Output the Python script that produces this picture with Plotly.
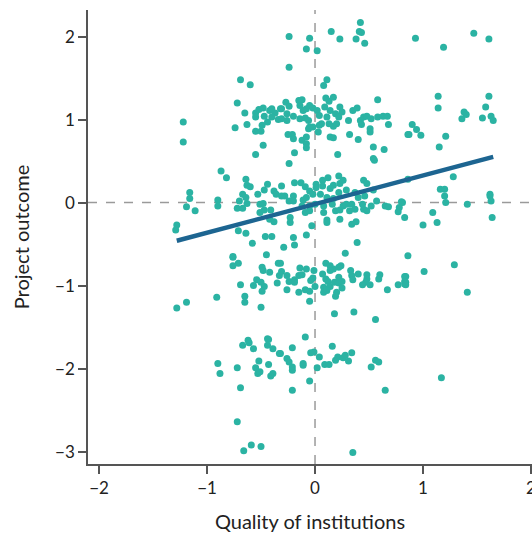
import plotly.graph_objects as go

# Data: (quality of institutions, project outcome)
points = [
    # outcome ~ 2
    (-0.24, 2.00), (-0.05, 1.98), (-0.08, 1.85), (0.02, 1.83), (-0.24, 1.63), (0.15, 2.06),
    (0.23, 1.97), (0.42, 2.17), (0.41, 2.06), (0.43, 2.05), (0.38, 1.97), (0.46, 1.92),
    (0.11, 1.48), (0.08, 1.41), (0.93, 1.98), (1.19, 1.87), (1.47, 2.04), (1.61, 1.97),
    (-0.69, 1.48), (-0.60, 1.42),
    # outcome ~ 1
    (-0.72, 1.20), (-0.65, 1.08), (-1.22, 0.97), (-1.22, 0.73), (-0.74, 0.90), (-0.63, 0.94),
    (-0.55, 0.86), (-0.50, 0.86), (-0.48, 0.69), (-0.55, 0.58), (-0.55, 1.08), (-0.52, 1.12),
    (-0.48, 1.14), (-0.55, 1.03), (-0.47, 1.04), (-0.42, 1.11), (-0.40, 1.13), (-0.37, 1.08),
    (-0.40, 1.03), (-0.44, 0.97), (-0.49, 0.93), (-0.34, 1.00), (-0.32, 1.13),
    (-0.31, 1.13), (-0.27, 1.21), (-0.24, 1.16), (-0.15, 1.23), (-0.12, 1.24), (-0.14, 1.17),
    (-0.05, 1.17), (-0.08, 1.13), (-0.11, 1.11), (-0.02, 1.14), (0.02, 1.11), (-0.26, 1.07),
    (-0.20, 1.04), (-0.31, 1.01), (-0.26, 0.99), (-0.14, 1.01), (-0.09, 1.02), (-0.06, 0.99),
    (0.04, 1.05), (0.09, 1.15), (0.10, 1.26), (0.13, 1.22), (0.17, 1.27), (0.14, 1.11),
    (0.19, 1.07), (0.23, 1.15), (0.25, 1.09), (0.22, 1.03), (0.11, 1.03), (0.06, 0.95),
    (0.04, 0.93), (0.17, 0.92), (0.20, 0.95), (0.31, 0.99), (0.35, 1.11), (0.39, 1.14),
    (0.42, 0.99), (0.45, 1.03), (0.48, 1.04), (0.52, 1.01), (0.43, 0.94), (0.58, 1.03),
    (0.63, 1.04), (0.67, 1.04), (0.68, 0.94), (0.58, 1.24), (0.51, 0.89), (0.51, 0.85),
    (0.32, 0.82), (0.40, 0.76), (0.54, 0.67), (0.64, 0.64), (0.54, 0.53), (0.86, 0.82),
    (0.21, 0.58), (-0.19, 0.60), (-0.25, 0.82), (-0.21, 0.82), (-0.20, 0.77), (-0.12, 0.75),
    (-0.08, 0.79), (-0.06, 0.89), (-0.02, 0.91), (0.03, 0.85), (-0.08, 0.71), (-0.08, 0.66),
    (0.14, 0.79), (0.17, 0.78), (0.13, 0.95), (-0.05, 0.91),
    (1.14, 1.28), (1.61, 1.28), (1.14, 1.14), (1.58, 1.15), (1.38, 1.09), (1.40, 1.06),
    (1.36, 1.01), (1.55, 1.02), (1.63, 1.04), (1.65, 0.99), (0.90, 0.94), (0.94, 0.88),
    (0.87, 0.82), (0.98, 0.81), (1.21, 0.80), (1.15, 0.67),
    (-0.87, 0.38), (-0.82, 0.30), (-0.24, 0.47), (0.55, 0.51),
    # outcome ~ 0
    (-1.16, 0.12), (-1.16, 0.05), (-1.19, -0.05), (-1.11, -0.10), (-1.28, -0.27), (-1.29, -0.33),
    (-0.90, 0.03), (-0.90, -0.04), (-0.64, 0.28), (-0.63, 0.21), (-0.60, 0.19), (-0.67, 0.10),
    (-0.64, 0.06), (-0.70, 0.02), (-0.63, -0.01), (-0.72, -0.07), (-0.67, -0.07), (-0.53, 0.10),
    (-0.44, 0.22), (-0.47, 0.15), (-0.38, 0.14), (-0.36, 0.10), (-0.51, -0.02), (-0.48, -0.01),
    (-0.51, -0.12), (-0.47, -0.09), (-0.41, -0.09), (-0.42, -0.20), (-0.38, -0.23),
    (-0.31, 0.20), (-0.28, 0.08), (-0.20, 0.08), (-0.19, 0.24), (-0.13, 0.24), (-0.09, 0.19),
    (-0.05, 0.14), (-0.08, 0.06), (-0.02, 0.10), (0.01, 0.22), (0.01, 0.18), (0.07, 0.27),
    (0.07, 0.20), (0.12, 0.30), (0.17, 0.21), (0.22, 0.32), (0.23, 0.23), (0.26, 0.27),
    (0.14, 0.17), (0.22, 0.12), (0.29, 0.15), (0.05, 0.10), (0.11, 0.06), (0.17, 0.05),
    (-0.11, 0.03), (-0.20, 0.02), (-0.24, 0.02), (-0.31, 0.08), (-0.12, -0.04), (-0.05, -0.04),
    (-0.09, -0.12), (-0.05, -0.10), (0.00, -0.02), (0.08, -0.04), (0.08, -0.12), (0.16, -0.02),
    (0.19, -0.10), (0.23, -0.09), (0.26, -0.04), (0.29, -0.02), (0.34, -0.02), (0.32, -0.10),
    (0.37, -0.08), (0.45, -0.08), (0.48, -0.10), (0.52, -0.04), (0.57, 0.02), (0.44, -0.02),
    (0.45, 0.27), (0.48, 0.23), (0.54, 0.15), (0.46, 0.08), (0.40, 0.06), (0.37, 0.12),
    (0.65, -0.04), (0.68, -0.05), (0.77, -0.11), (0.83, -0.18), (0.81, 0.00), (0.11, -0.21),
    (0.11, -0.24), (0.23, -0.20), (0.34, -0.26), (0.38, -0.23), (-0.03, -0.28), (-0.23, -0.18),
    (-0.23, -0.24), (0.86, 0.28),
    (1.28, 0.31), (1.16, 0.16), (1.20, 0.16), (1.20, 0.08), (1.21, 0.00), (0.80, 0.01),
    (0.78, -0.06), (1.09, -0.12), (1.13, -0.24), (1.00, -0.27), (1.41, -0.02), (1.62, 0.10),
    (1.62, 0.08), (1.63, 0.02), (1.64, -0.18),
    # outcome ~ -1
    (-0.71, -0.34), (-0.64, -0.37), (-0.58, -0.49), (-0.46, -0.41), (-0.40, -0.41),
    (-0.45, -0.63), (-0.76, -0.65), (-0.71, -0.73), (-0.49, -0.78), (-0.08, -0.39),
    (-0.20, -0.42), (-0.19, -0.51), (-0.29, -0.54), (0.39, -0.48), (0.28, -0.61), (0.86, -0.64),
    (1.29, -0.75), (-0.76, -0.66), (-0.76, -0.76), (-0.48, -0.82), (-0.42, -0.84), (-0.34, -0.73),
    (-0.33, -0.88), (-0.35, -0.97), (-0.54, -0.93), (-0.50, -0.96), (-0.57, -1.00), (-0.47, -1.01),
    (-0.49, -1.07), (-0.69, -0.99), (-0.65, -1.13), (-0.65, -1.20), (-0.91, -1.14), (-1.19, -1.20),
    (-1.28, -1.27), (-0.50, -1.26),
    (-0.32, -0.73), (-0.31, -0.83), (-0.26, -0.88), (-0.24, -0.95), (-0.26, -1.05), (-0.19, -0.93),
    (-0.19, -0.96), (-0.15, -0.88), (-0.14, -0.79), (-0.08, -0.80), (-0.12, -0.87), (-0.15, -1.08),
    (-0.09, -1.05), (-0.05, -1.07), (-0.04, -0.94), (-0.02, -0.91), (-0.01, -0.82), (0.00, -1.01),
    (-0.05, -1.19), (0.07, -0.86), (0.10, -0.73), (0.14, -0.76), (0.17, -0.80), (0.14, -0.82),
    (0.24, -0.76), (0.22, -0.78), (0.10, -0.92), (0.12, -0.95), (0.08, -1.02), (0.14, -1.01),
    (0.08, -1.08), (0.11, -1.06), (0.18, -0.96), (0.22, -0.97), (0.22, -0.90), (0.25, -0.95),
    (0.20, -1.08), (0.19, -1.13), (0.25, -1.03), (0.33, -0.82), (0.34, -0.88), (0.35, -0.93),
    (0.40, -0.86), (0.48, -0.87), (0.48, -0.92), (0.47, -0.96), (0.44, -0.99), (0.51, -0.99),
    (0.60, -0.87), (0.59, -0.92), (0.67, -1.05), (0.77, -0.99), (0.84, -0.89), (0.84, -0.96),
    (0.84, -0.99), (0.18, -1.34), (0.36, -1.32), (0.56, -1.41), (1.01, -0.83), (0.83, -0.89),
    (0.83, -0.95), (0.83, -0.98), (1.41, -1.08),
    # outcome ~ -2
    (-0.62, -1.66), (-0.44, -1.64), (-0.09, -1.62), (-0.43, -1.65), (-0.67, -1.72), (-0.61, -1.69),
    (-0.57, -1.76), (-0.44, -1.72), (-0.39, -1.76), (-0.33, -1.82), (-0.90, -1.94), (-0.88, -2.06),
    (-0.72, -1.99), (-0.52, -1.91), (-0.55, -1.99), (-0.53, -2.06), (-0.51, -2.04), (-0.43, -1.95),
    (-0.39, -2.06), (-0.41, -2.09), (-0.69, -2.23),
    (-0.21, -1.75), (-0.32, -1.82), (-0.26, -1.88), (-0.24, -1.92), (-0.21, -1.98), (-0.21, -2.02),
    (-0.21, -2.26), (-0.11, -1.94), (-0.11, -1.96), (-0.04, -1.81), (-0.01, -1.80), (0.04, -1.86),
    (0.02, -1.99), (-0.05, -2.15), (0.09, -1.95), (0.13, -1.95), (0.16, -1.73), (0.19, -1.90),
    (0.21, -1.86), (0.26, -1.87), (0.28, -1.84), (0.34, -1.81), (0.31, -1.91), (0.52, -1.98),
    (0.56, -1.90), (0.59, -1.92), (0.65, -2.26), (1.17, -2.11),
    # outcome ~ -3
    (-0.72, -2.64), (-0.59, -2.92), (-0.50, -2.94), (-0.66, -2.99), (0.35, -3.01),
]

quality = [p[0] for p in points]
outcome = [p[1] for p in points]

# Fitted regression line end points
fit_x = [-1.28, 1.65]
fit_y = [-0.46, 0.55]

x_ticks = [-2, -1, 0, 1, 2]
y_ticks = [-3, -2, -1, 0, 1, 2]


def fmt(v):
    return ("\u2212" + str(-v)) if v < 0 else str(v)


FONT = "Lato"
TEXT = "#222222"
AXIS = "#555555"

fig = go.Figure()
fig.add_trace(go.Scatter(
    x=quality, y=outcome, mode="markers",
    marker=dict(size=7, color="#2bb3a3", line=dict(width=0)),
    showlegend=False, hoverinfo="skip",
))
fig.add_trace(go.Scatter(
    x=fit_x, y=fit_y, mode="lines",
    line=dict(color="#1d6591", width=4.5),
    showlegend=False, hoverinfo="skip",
))

fig.add_shape(type="line", xref="x", yref="paper", x0=0, x1=0, y0=0, y1=1,
              line=dict(color="#9a9a9a", width=1.5, dash="dash"), layer="below")
fig.add_shape(type="line", xref="paper", yref="y", x0=0, x1=1, y0=0, y1=0,
              line=dict(color="#9a9a9a", width=1.5, dash="dash"), layer="below")

fig.update_layout(
    width=532, height=536,
    margin=dict(l=88, r=0, t=10, b=72),
    plot_bgcolor="white", paper_bgcolor="white",
    font=dict(family=FONT, color=TEXT, size=17),
)
fig.update_xaxes(
    range=[-2.102, 2.009], tickvals=x_ticks, ticktext=[fmt(v) for v in x_ticks],
    showgrid=False, zeroline=False, showline=True, linecolor=AXIS, linewidth=1.5,
    ticks="outside", ticklen=8, tickwidth=1.5, tickcolor=AXIS,
    tickfont=dict(size=17, color=TEXT), ticklabeloverflow="allow",
    title=dict(text="Quality of institutions", font=dict(size=20, color=TEXT), standoff=18),
    automargin=False,
)
fig.update_yaxes(
    range=[-3.15, 2.32], tickvals=y_ticks, ticktext=[fmt(v) for v in y_ticks],
    showgrid=False, zeroline=False, showline=True, linecolor=AXIS, linewidth=1.5,
    ticks="outside", ticklen=8, tickwidth=1.5, tickcolor=AXIS,
    tickfont=dict(size=17, color=TEXT),
    title=dict(text="Project outcome", font=dict(size=20, color=TEXT), standoff=20),
    automargin=False,
)

fig.write_html(
    "out.html",
    config={"displayModeBar": False},
    post_script="document.body.style.margin='0';document.body.style.overflow='hidden';",
)
